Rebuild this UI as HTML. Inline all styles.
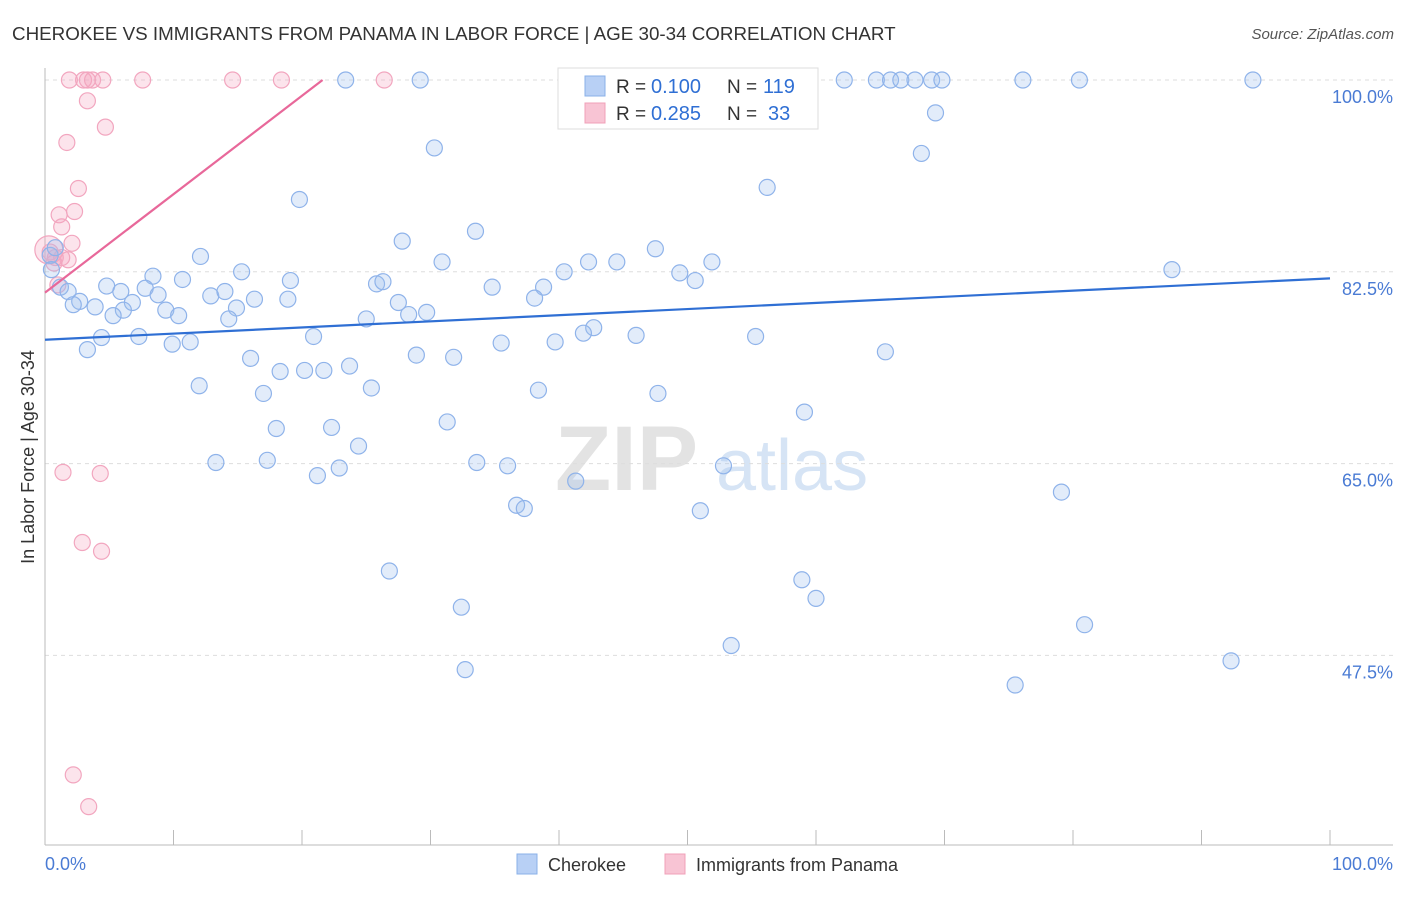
<!DOCTYPE html>
<html><head><meta charset="utf-8"><style>
body{margin:0;background:#fff;font-family:"Liberation Sans",sans-serif;}
svg text{font-family:"Liberation Sans",sans-serif;}
</style></head><body>
<svg id="chart" width="1406" height="892" xmlns="http://www.w3.org/2000/svg">
<text x="12" y="40" font-size="18.8" fill="#333">CHEROKEE VS IMMIGRANTS FROM PANAMA IN LABOR FORCE | AGE 30-34 CORRELATION CHART</text>
<text x="1394" y="39" font-size="15" fill="#555" font-style="italic" text-anchor="end">Source: ZipAtlas.com</text>
<g>
<text x="555" y="490" font-size="92" fill="#e3e3e3" font-family="Liberation Serif" font-weight="bold">ZIP</text>
<text x="716" y="490" font-size="72" fill="#d6e4f5">atlas</text>
</g>
<g id="grid"></g>
<g id="axes"></g>
<g id="marks"></g>
<text transform="translate(34,457) rotate(-90)" font-size="18" fill="#333" text-anchor="middle">In Labor Force | Age 30-34</text>
<text x="45" y="870" font-size="18" fill="#4a7bd4">0.0%</text>
<text x="1393" y="870" font-size="18" fill="#4a7bd4" text-anchor="end">100.0%</text>
<g>
<rect x="558" y="68" width="260" height="61" fill="#fff" stroke="#ddd"/>
<rect x="585" y="76" width="20" height="20" fill="#b8d0f5" stroke="#8ab0e8"/>
<rect x="585" y="103" width="20" height="20" fill="#f8c4d4" stroke="#f0a0b8"/>
<text x="616" y="93" font-size="19" fill="#333">R =</text>
<text x="651" y="93" font-size="20" fill="#2f6fd4">0.100</text>
<text x="727" y="93" font-size="19" fill="#333">N =</text>
<text x="763" y="93" font-size="20" fill="#2f6fd4">119</text>
<text x="616" y="120" font-size="19" fill="#333">R =</text>
<text x="651" y="120" font-size="20" fill="#2f6fd4">0.285</text>
<text x="727" y="120" font-size="19" fill="#333">N =</text>
<text x="768" y="120" font-size="20" fill="#2f6fd4">33</text>
</g>
<g>
<rect x="517" y="854" width="20" height="20" fill="#b8d0f5" stroke="#8ab0e8"/>
<text x="548" y="871" font-size="18" fill="#333">Cherokee</text>
<rect x="665" y="854" width="20" height="20" fill="#f8c4d4" stroke="#f0a0b8"/>
<text x="696" y="871" font-size="18" fill="#333">Immigrants from Panama</text>
</g>
</svg>
<script>
const yTicks=[100,82.5,65,47.5];
const yTickLabels=["100.0%","82.5%","65.0%","47.5%"];
const cherokeeX=[23.4,29.2,51.4,56.7,62.2,64.7,65.8,66.6,67.7,69.0,69.8,76.1,80.5,94.0,69.3,30.3,68.2,56.2,19.8,33.5,27.8,47.5,12.1,30.9,42.3,44.5,51.9,87.7,15.3,40.4,49.4,8.4,10.7,19.1,25.8,26.3,50.6,4.8,34.8,38.8,7.8,5.9,1.2,1.8,8.8,12.9,14.0,38.1,16.3,18.9,2.7,2.2,6.8,27.5,3.9,6.1,9.4,14.9,5.3,10.4,28.3,29.7,14.3,25.0,42.7,41.9,46.0,55.3,4.4,7.3,20.9,9.9,11.3,35.5,39.7,3.3,65.4,28.9,31.8,16.0,23.7,18.3,20.2,21.7,12.0,25.4,17.0,38.4,47.7,59.1,31.3,18.0,22.3,24.4,13.3,17.3,33.6,36.0,52.8,22.9,21.2,41.3,79.1,36.7,37.3,51.0,26.8,58.9,60.0,32.4,80.9,53.4,92.3,32.7,75.5,0.4,0.5,0.8];
const cherokeeY=[100,100,100,100,100,100,100,100,100,100,100,100,100,100,97.0,93.8,93.3,90.2,89.1,86.2,85.3,84.6,83.9,83.4,83.4,83.4,83.4,82.7,82.5,82.5,82.4,82.1,81.8,81.7,81.4,81.6,81.7,81.2,81.1,81.1,81.0,80.7,81.1,80.7,80.4,80.3,80.7,80.1,80.0,80.0,79.8,79.5,79.7,79.7,79.3,79.0,79.0,79.2,78.5,78.5,78.6,78.8,78.2,78.2,77.4,76.9,76.7,76.6,76.5,76.6,76.6,75.9,76.1,76.0,76.1,75.4,75.2,74.9,74.7,74.6,73.9,73.4,73.5,73.5,72.1,71.9,71.4,71.7,71.4,69.7,68.8,68.2,68.3,66.6,65.1,65.3,65.1,64.8,64.8,64.6,63.9,63.4,62.4,61.2,60.9,60.7,55.2,54.4,52.7,51.9,50.3,48.4,47.0,46.2,44.8,84.0,82.7,84.7];
const panamaX=[1.9,3.0,3.3,3.7,4.5,7.6,14.6,18.4,26.4,3.3,4.7,1.7,2.6,1.1,2.3,1.3,2.1,0.4,0.8,1.3,1.8,0.7,1.0,1.4,4.3,2.9,4.4,2.2,3.4,0.3];
const panamaY=[100,100,100,100,100,100,100,100,100,98.1,95.7,94.3,90.1,87.7,88.0,86.6,85.1,84.3,83.8,83.8,83.6,83.3,81.3,64.2,64.1,57.8,57.0,36.6,33.7,84.5];
const cherokeeTrend=[[0,76.3],[100,81.9]];
const panamaTrend=[[0,80.6],[21.6,100]];
const NS="http://www.w3.org/2000/svg";
function sx(v){return 45+v*12.85;}
function sy(v){return 80+(100-v)*10.96;}
function mk(tag,attrs,parent){const e=document.createElementNS(NS,tag);for(const k in attrs)e.setAttribute(k,attrs[k]);parent.appendChild(e);return e;}
const grid=document.getElementById('grid'),axes=document.getElementById('axes'),marks=document.getElementById('marks');
yTicks.forEach((t,i)=>{
 const l=mk('line',{x1:45,x2:1393,y1:sy(t),y2:sy(t),stroke:'#ddd','stroke-dasharray':'4,4'},grid);
 
 
 const tx=mk('text',{x:1393,y:sy(t)+23,'font-size':18,fill:'#4a7bd4','text-anchor':'end'},grid);
 tx.textContent=yTickLabels[i];
 
 
});
let a=mk('line',{x1:45,x2:45,y1:68,y2:845,stroke:'#bbb'},axes);


a=mk('line',{x1:45,x2:1393,y1:845,y2:845,stroke:'#bbb'},axes);


for(let i=0;i<=10;i++){
 const t=mk('line',{x1:sx(i*10),x2:sx(i*10),y1:830,y2:845,stroke:'#bbb'},axes);
 
 
}
panamaX.forEach((x,i)=>{
 const c=mk('circle',{cx:sx(x),cy:sy(panamaY[i]),r:i==panamaX.length-1?14:8,fill:'rgba(245,165,192,0.3)',stroke:'#f2a6bf','stroke-width':1.2},marks);
 
 
});
cherokeeX.forEach((x,i)=>{
 const c=mk('circle',{cx:sx(x),cy:sy(cherokeeY[i]),r:8,fill:'rgba(160,192,240,0.3)',stroke:'#8fb3ea','stroke-width':1.2},marks);
 
 
});
let tl=mk('line',{x1:sx(cherokeeTrend[0][0]),y1:sy(cherokeeTrend[0][1]),x2:sx(cherokeeTrend[1][0]),y2:sy(cherokeeTrend[1][1]),stroke:'#2f6fd4','stroke-width':2.2},marks);


tl=mk('line',{x1:sx(panamaTrend[0][0]),y1:sy(panamaTrend[0][1]),x2:sx(panamaTrend[1][0]),y2:sy(panamaTrend[1][1]),stroke:'#e8689a','stroke-width':2.2},marks);


</script>
</body></html>
